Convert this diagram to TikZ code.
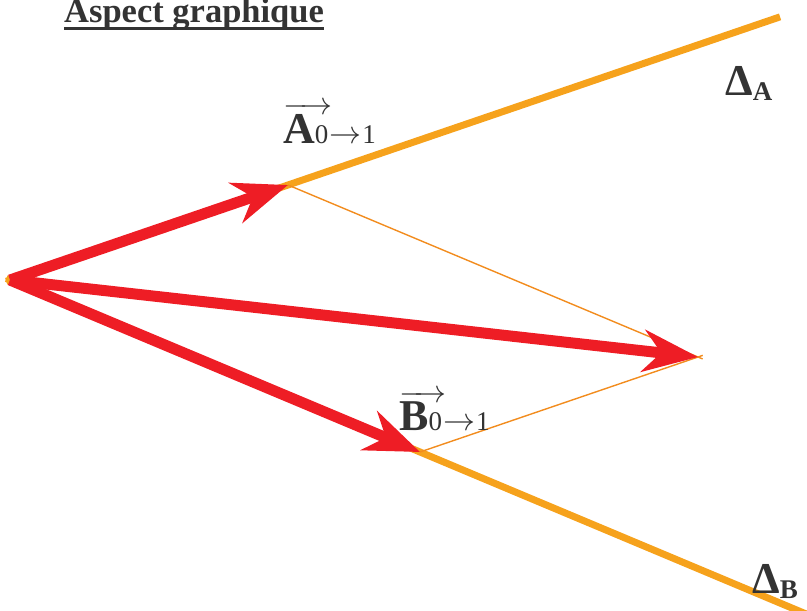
\RequirePackage{fix-cm}
\documentclass[tikz,border=0pt]{standalone}
\usepackage{fontspec}
\setmainfont{Liberation Serif}
\usetikzlibrary{arrows.meta,calc}
\definecolor{ink}{HTML}{333333}
\definecolor{droite}{HTML}{F6A21C}
\definecolor{fine}{HTML}{F28C1E}
\definecolor{vecteur}{HTML}{EE1D25}
\newcommand{\grand}{\fontsize{44}{48}\selectfont\bfseries}
\newcommand{\petit}{\fontsize{27}{28}\selectfont\mdseries}
\newcommand{\indice}[1]{\raisebox{-5pt}{\fontsize{27}{28}\selectfont #1}}
\newcommand{\fleche}{\kern1pt{\fontsize{32}{32}\selectfont$\rightarrow$}\kern1pt}
\newcommand{\vecteur}[1]{{\fontsize{32}{34}\selectfont$\overrightarrow{\mbox{\grand #1\petit 0\kern4pt}}$\kern-4pt}\petit\fleche 1}
\newcommand{\souligne}[1]{\setbox0\hbox{#1}\rlap{\rule[-8pt]{\wd0}{3pt}}\box0}
\tikzset{
  axe/.style={draw=droite,line width=7pt},
  trace/.style={draw=fine,line width=1.4pt},
  vec/.style={draw=vecteur,line width=11pt,-{Stealth[length=55pt,width=42pt,inset=18pt]}},
  nom/.style={text=ink,inner sep=0pt,anchor=base west,font=\grand},
  titre/.style={nom,font=\bfseries\fontsize{34.5}{36}\selectfont}
}

\begin{document}
\begin{tikzpicture}[x=1pt,y=-1pt]
\useasboundingbox (0,0) rectangle (807,611);
\coordinate (O) at (10,280);
\coordinate (A) at (288,185);
\coordinate (B) at (420,452);
\coordinate (R) at ($(A)+(B)-(O)$);
\coordinate (finA) at ($(O)!2.77!(A)$);
\coordinate (finB) at ($(O)!1.95!(B)$);

\node[titre] (titre) at (64,22) {\souligne{Aspect graphique}};

% droites
\draw[axe,shorten <=-4pt] (O) -- (finA);
\draw[axe,shorten <=-4pt] (O) -- (finB);
\draw[trace,shorten >=-5pt] (A) -- (R);
\draw[trace,shorten >=-5pt] (B) -- (R);

% vecteurs
\draw[vec] (O) -- (A);
\draw[vec] (O) -- (B);
\draw[vec] (O) -- (R);

\node[nom] (lblA) at (283,143) {\vecteur{A}};
\node[nom] (lblB) at (399,430) {\vecteur{B}};
\node[nom] (deltaA) at (725,95) {Δ\indice{A}};
\node[nom] (deltaB) at (752,593) {Δ\indice{B}};
\end{tikzpicture}
\end{document}
